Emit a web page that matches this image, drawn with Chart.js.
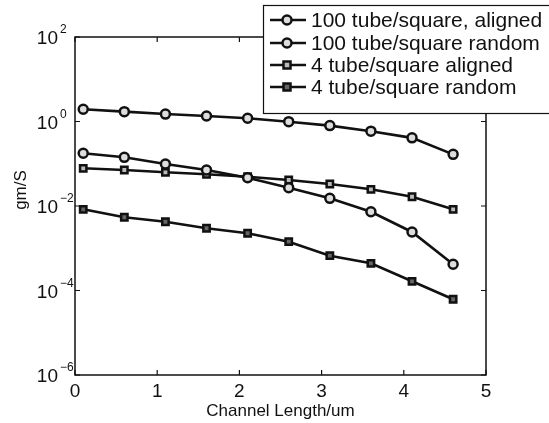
<!DOCTYPE html>
<html><head><meta charset="utf-8">
<script src="https://cdn.jsdelivr.net/npm/chart.js@4/dist/chart.umd.min.js"></script>
<style>html,body{margin:0;padding:0;background:#fff;}canvas{display:block;}</style>
</head><body>
<canvas id="c" width="549" height="423"></canvas>
<script>
const channelLength = [0.1, 0.6, 1.1, 1.6, 2.1, 2.6, 3.1, 3.6, 4.1, 4.6];
const tube100Aligned = [1.95, 1.71, 1.50, 1.35, 1.19, 0.99, 0.80, 0.59, 0.41, 0.167];
const tube100Random = [0.177, 0.142, 0.0986, 0.071, 0.0468, 0.0271, 0.0152, 0.0073, 0.00243, 0.000417];
const tube4Aligned = [0.078, 0.071, 0.0627, 0.0562, 0.0493, 0.0412, 0.0332, 0.0248, 0.0166, 0.00835];
const tube4Random = [0.00835, 0.0054, 0.00425, 0.00297, 0.00226, 0.00143, 0.000667, 0.00044, 0.000165, 0.0000619];
const seriesLabels = ['100 tube/square, aligned', '100 tube/square random', '4 tube/square aligned', '4 tube/square random'];
const xTicks = [0, 1, 2, 3, 4, 5];
const yTickExponents = [-6, -4, -2, 0, 2];
const xTitle = 'Channel Length/um';
const yTitle = 'gm/S';

const FONT = '"Liberation Sans", Arial, Helvetica, sans-serif';
const INK = '#111';

function mk(label, data, style, fill) {
  return {
    label, data: channelLength.map((x, i) => ({x, y: data[i]})),
    borderColor: INK, borderWidth: 2.6, pointStyle: style,
    pointRadius: 4.5, pointBorderWidth: 2.5,
    pointBackgroundColor: fill, pointBorderColor: INK, tension: 0
  };
}

const axisPlugin = {
  id: 'axisPlugin',
  afterDraw(chart) {
    const ctx = chart.ctx, a = chart.chartArea;
    const xs = chart.scales.x, ys = chart.scales.y;
    ctx.save();
    ctx.strokeStyle = INK; ctx.lineWidth = 1.5;
    ctx.strokeRect(a.left, a.top, a.right - a.left, a.bottom - a.top);
    ctx.lineWidth = 1.2;
    ctx.fillStyle = INK;
    // x ticks
    ctx.font = '19px ' + FONT; ctx.textAlign = 'center'; ctx.textBaseline = 'top';
    xTicks.forEach(v => {
      const px = xs.getPixelForValue(v);
      ctx.beginPath(); ctx.moveTo(px, a.bottom); ctx.lineTo(px, a.bottom - 5);
      ctx.moveTo(px, a.top); ctx.lineTo(px, a.top + 5); ctx.stroke();
      ctx.fillText(String(v), px, a.bottom + 7);
    });
    // y ticks
    yTickExponents.forEach(e => {
      const py = ys.getPixelForValue(Math.pow(10, e));
      ctx.beginPath(); ctx.moveTo(a.left, py); ctx.lineTo(a.left + 5, py);
      ctx.moveTo(a.right, py); ctx.lineTo(a.right - 5, py); ctx.stroke();
      const exp = String(e).replace('-', '\u2212');
      ctx.font = '19px ' + FONT; ctx.textAlign = 'right'; ctx.textBaseline = 'middle';
      ctx.fillText('10', 58, py + 2);
      ctx.font = '12px ' + FONT; ctx.textAlign = 'left'; ctx.textBaseline = 'alphabetic';
      ctx.fillText(exp, 60, py - 4);
    });
    // titles
    ctx.font = '17px ' + FONT; ctx.textAlign = 'center'; ctx.textBaseline = 'middle';
    ctx.fillText(xTitle, (a.left + a.right) / 2, 411);
    ctx.save(); ctx.translate(21, 190); ctx.rotate(-Math.PI / 2);
    ctx.fillText(yTitle, 0, 0); ctx.restore();
    // legend
    const bx = 263, by = 5, bw = 300, bh = 108;
    ctx.fillStyle = '#fff'; ctx.fillRect(bx, by, bw, bh);
    ctx.lineWidth = 1.2; ctx.strokeStyle = INK; ctx.strokeRect(bx + 0.5, by + 0.5, bw, bh);
    const rows = [20, 43, 65, 87];
    chart.data.datasets.forEach((ds, i) => {
      const y = rows[i];
      ctx.strokeStyle = INK; ctx.lineWidth = 2.6;
      ctx.beginPath(); ctx.moveTo(270, y); ctx.lineTo(306, y); ctx.stroke();
      ctx.fillStyle = ds.pointBackgroundColor; ctx.lineWidth = 2.5;
      ctx.beginPath();
      if (ds.pointStyle === 'circle') ctx.arc(287, y, 4.5, 0, Math.PI * 2);
      else ctx.rect(287 - 3.5, y - 3.5, 7, 7);
      ctx.fill(); ctx.stroke();
      ctx.fillStyle = INK; ctx.font = '21px ' + FONT; ctx.textAlign = 'left'; ctx.textBaseline = 'middle';
      ctx.fillText(ds.label, 311, y + 1);
    });
    ctx.restore();
  }
};

new Chart(document.getElementById('c'), {
  type: 'line',
  data: {
    datasets: [
      mk(seriesLabels[0], tube100Aligned, 'circle', '#ddd'),
      mk(seriesLabels[1], tube100Random, 'circle', '#ddd'),
      mk(seriesLabels[2], tube4Aligned, 'rect', '#bbb'),
      mk(seriesLabels[3], tube4Random, 'rect', '#666')
    ]
  },
  options: {
    responsive: false, animation: false,
    layout: { padding: { left: 0, top: 37, right: 63, bottom: 0 } },
    plugins: { legend: { display: false }, tooltip: { enabled: false } },
    scales: {
      x: {
        type: 'linear', min: 0, max: 5,
        grid: { display: false, drawTicks: false }, border: { display: false },
        ticks: { display: false },
        afterFit(s) { s.height = 48; }
      },
      y: {
        type: 'logarithmic', min: 1e-6, max: 1e2,
        grid: { display: false, drawTicks: false }, border: { display: false },
        ticks: { display: false },
        afterBuildTicks(s) { s.ticks = yTickExponents.map(e => ({ value: Math.pow(10, e) })); },
        afterFit(s) { s.width = 75; }
      }
    }
  },
  plugins: [axisPlugin]
});
</script>
</body></html>
